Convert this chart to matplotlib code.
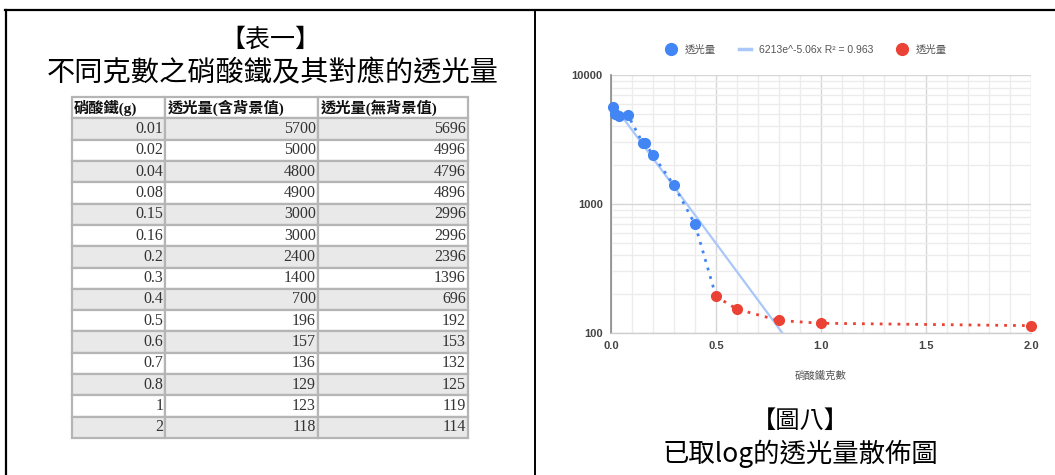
import numpy as np
import matplotlib
matplotlib.use("Agg")
import matplotlib.pyplot as plt
from matplotlib.lines import Line2D

plt.rcParams['font.family'] = ['Liberation Sans', 'Noto Sans CJK TC', 'DejaVu Sans']

# ---- data ----
grams = [0.01, 0.02, 0.04, 0.08, 0.15, 0.16, 0.2, 0.3, 0.4, 0.5, 0.6, 0.7, 0.8, 1, 2]
with_bg = [5700, 5000, 4800, 4900, 3000, 3000, 2400, 1400, 700, 196, 157, 136, 129, 123, 118]
no_bg = [5696, 4996, 4796, 4896, 2996, 2996, 2396, 1396, 696, 192, 153, 132, 125, 119, 114]
headers = ["硝酸鐵(g)", "透光量(含背景值)", "透光量(無背景值)"]

blue_x = [0.01, 0.02, 0.04, 0.08, 0.15, 0.16, 0.2, 0.3, 0.4]
blue_y = [5696, 4996, 4796, 4896, 2996, 2996, 2396, 1396, 696]
red_x = [0.5, 0.6, 0.8, 1.0, 2.0]
red_y = [192, 153, 125, 119, 114]

fit_a, fit_b, fit_r2 = 6213, -5.06, 0.963
series_label = "透光量"
x_label = "硝酸鐵克數"

BLUE = "#4285F4"
RED = "#EA4335"
TREND = "#A9C7F8"

W, H = 1055, 475
fig = plt.figure(figsize=(W / 100, H / 100), dpi=100)


def fx(px):
    return px / W


def fy(py):
    return 1 - py / H


# ---- frame lines ----
fig.add_artist(Line2D([fx(5), 1], [fy(9.5), fy(9.5)], color="black", lw=1.6))
fig.add_artist(Line2D([fx(6), fx(6)], [0, fy(9.5)], color="black", lw=1.6))
fig.add_artist(Line2D([fx(535), fx(535)], [0, fy(9.5)], color="black", lw=1.4))

# ---- left panel titles ----
fig.text(fx(270), fy(40), "【表一】", ha="center", va="center", fontsize=18,
         family=["Noto Sans CJK TC"], weight="light")
fig.text(fx(273), fy(73), "不同克數之硝酸鐵及其對應的透光量", ha="center", va="center",
         fontsize=20.3, family=["Noto Sans CJK TC"], weight="light")

# ---- table ----
tax = fig.add_axes([fx(72), fy(438), fx(468 - 72), (438 - 97) / H])
tax.axis("off")
cell_text = [[f"{g:g}", f"{a}", f"{b}"] for g, a, b in zip(grams, with_bg, no_bg)]
tab = tax.table(cellText=cell_text, colLabels=headers,
                colWidths=[93 / 396, 153 / 396, 150 / 396],
                bbox=[0, 0, 1, 1], cellLoc="right")
tab.auto_set_font_size(False)
for (r, c), cell in tab.get_celld().items():
    cell.set_edgecolor("#b5b5b5")
    cell.set_linewidth(1.6)
    cell.PAD = 0.015
    txt = cell.get_text()
    if r == 0:
        cell.set_facecolor("white")
        txt.set_ha("left")
        cell._loc = "left"
        txt.set_fontsize(11)
        txt.set_fontweight("bold")
        txt.set_fontfamily(["Liberation Serif", "Noto Sans CJK TC"])
        txt.set_color("#111111")
    else:
        cell.set_facecolor("#e9e9e9" if r % 2 == 1 else "white")
        txt.set_fontsize(11.5)
        txt.set_fontfamily(["Liberation Serif"])
        txt.set_color("#333333")

# ---- chart ----
ax = fig.add_axes([fx(611), fy(333), fx(1031 - 611), (333 - 75) / H])
ax.set_yscale("log")
ax.set_xlim(0, 2.0)
ax.set_ylim(100, 10000)

ax.set_xticks(np.arange(0, 2.01, 0.5))
ax.set_xticks(np.arange(0, 2.01, 0.1), minor=True)
ax.set_yticks([100, 1000, 10000])
ax.set_yticklabels(["100", "1000", "10000"])
ax.xaxis.set_major_formatter(matplotlib.ticker.FormatStrFormatter("%.1f"))
ax.grid(True, which="major", color="#d6d6d6", lw=1.0)
ax.grid(True, which="minor", color="#ececec", lw=1.0)
ax.set_axisbelow(True)
ax.tick_params(which="both", length=0, labelsize=8, colors="#444444", pad=6)
for lbl in ax.get_xticklabels() + ax.get_yticklabels():
    lbl.set_fontweight("bold")
for s in ("top", "right"):
    ax.spines[s].set_visible(False)
ax.spines["left"].set_color("#8a8a8a")
ax.spines["left"].set_linewidth(1.2)
ax.spines["bottom"].set_color("#cfcfcf")
ax.spines["bottom"].set_linewidth(1.0)

# exponential trendline
tx = np.linspace(min(grams), max(grams), 400)
ax.plot(tx, fit_a * np.exp(fit_b * tx), color=TREND, lw=1.6, zorder=2)

# dotted connectors
ax.plot(blue_x + red_x[:1], blue_y + red_y[:1], color=BLUE, lw=2.0,
        ls=(0, (1, 2.2)), zorder=3)
ax.plot(red_x, red_y, color=RED, lw=2.0, ls=(0, (1, 2.2)), zorder=3)

# points
ax.plot(blue_x, blue_y, "o", color=BLUE, ms=7, zorder=4, clip_on=False)
ax.plot(red_x, red_y, "o", color=RED, ms=7, zorder=4, clip_on=False)

ax.set_xlabel(x_label, fontsize=7.5, color="#555555", labelpad=14)

handles = [
    Line2D([], [], marker="o", ls="none", color=BLUE, ms=8.5),
    Line2D([], [], color=TREND, lw=2.5),
    Line2D([], [], marker="o", ls="none", color=RED, ms=8.5),
]
labels = [series_label, f"{fit_a}e^{fit_b}x R² = {fit_r2}", series_label]
leg = fig.legend(handles, labels, loc="center", bbox_to_anchor=(fx(806), fy(50)),
                 ncol=3, frameon=False, fontsize=7.5, handlelength=1.2,
                 handletextpad=0.7, columnspacing=2.2)
for t in leg.get_texts():
    t.set_color("#555555")

# ---- right panel captions ----
fig.text(fx(800), fy(421), "【圖八】", ha="center", va="center", fontsize=17.5,
         family=["Noto Sans CJK TC"], weight="light")
fig.text(fx(800), fy(454), "已取log的透光量散佈圖", ha="center", va="center",
         fontsize=19, family=["Noto Sans CJK TC"], weight="light")

fig.savefig("out.png", dpi=100)
